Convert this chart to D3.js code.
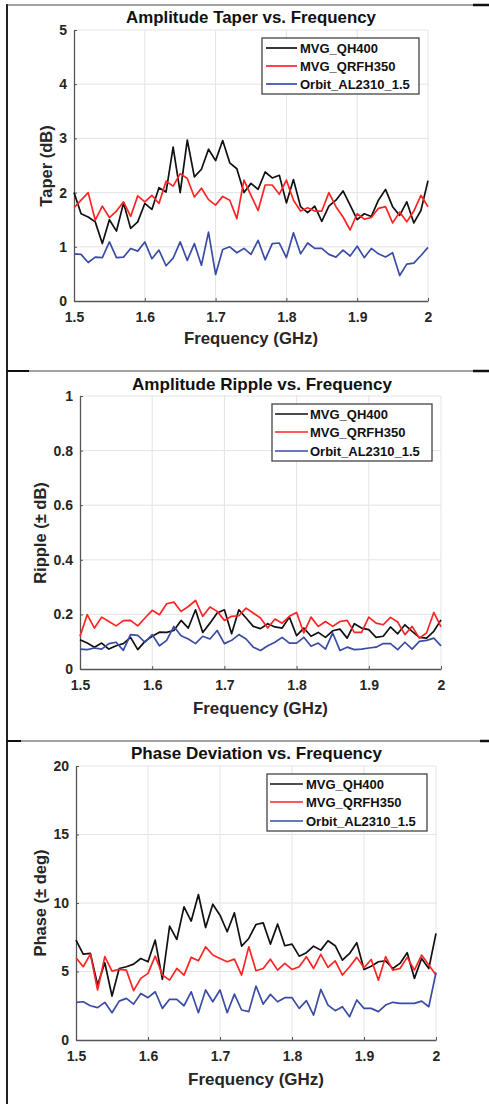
<!DOCTYPE html>
<html><head><meta charset="utf-8">
<script src="https://cdn.jsdelivr.net/npm/d3@7"></script>
<style>body{margin:0;background:#fff}svg{display:block}text{font-family:"Liberation Sans",Arial,sans-serif;font-weight:bold}</style>
</head><body>
<script>
const freqs=[1.50,1.51,1.52,1.53,1.54,1.55,1.56,1.57,1.58,1.59,1.60,1.61,1.62,1.63,1.64,1.65,1.66,1.67,1.68,1.69,1.70,1.71,1.72,1.73,1.74,1.75,1.76,1.77,1.78,1.79,1.80,1.81,1.82,1.83,1.84,1.85,1.86,1.87,1.88,1.89,1.90,1.91,1.92,1.93,1.94,1.95,1.96,1.97,1.98,1.99,2.00];
const seriesNames=["MVG_QH400","MVG_QRFH350","Orbit_AL2310_1.5"];
const xTicks=[1.5,1.6,1.7,1.8,1.9,2];
const xTickLabels=["1.5","1.6","1.7","1.8","1.9","2"];

const taperQH400=[2.0,1.61,1.55,1.46,1.06,1.5,1.29,1.81,1.34,1.46,1.8,1.69,2.09,2.01,2.84,2.0,2.97,2.29,2.43,2.8,2.59,2.96,2.55,2.44,2.0,2.17,2.06,2.38,2.27,2.32,1.81,2.24,1.74,1.63,1.75,1.47,1.75,1.86,2.03,1.77,1.5,1.61,1.56,1.86,2.06,1.74,1.58,1.83,1.44,1.67,2.22];
const taperQRFH350=[1.72,1.86,2.0,1.49,1.75,1.54,1.66,1.83,1.56,1.94,1.83,1.95,1.8,2.21,2.12,2.35,2.26,1.92,2.08,1.87,1.77,1.93,1.86,1.52,2.23,1.95,1.67,2.14,2.14,1.97,2.23,1.86,1.66,1.72,1.66,1.66,2.0,1.74,1.55,1.31,1.61,1.51,1.54,1.71,1.74,1.44,1.64,1.46,1.66,1.95,1.74];
const taperAL2310=[0.87,0.86,0.71,0.81,0.8,1.09,0.8,0.81,0.97,0.92,1.09,0.78,0.94,0.65,0.79,1.09,0.75,1.06,0.66,1.27,0.49,0.95,1.0,0.89,0.97,0.86,1.12,0.76,1.06,1.07,0.8,1.26,0.87,1.07,0.97,0.97,0.86,0.81,0.94,0.83,1.01,0.8,0.97,0.87,0.81,0.89,0.47,0.68,0.7,0.84,0.99];

const rippleQH400=[0.107,0.095,0.08,0.095,0.073,0.085,0.093,0.116,0.071,0.101,0.12,0.135,0.134,0.141,0.178,0.15,0.217,0.134,0.168,0.205,0.217,0.129,0.217,0.187,0.156,0.148,0.166,0.154,0.15,0.19,0.122,0.15,0.12,0.134,0.116,0.14,0.146,0.113,0.166,0.15,0.144,0.116,0.12,0.154,0.129,0.162,0.138,0.116,0.113,0.138,0.18];
const rippleQRFH350=[0.12,0.199,0.15,0.19,0.174,0.158,0.177,0.178,0.158,0.187,0.215,0.199,0.239,0.245,0.211,0.229,0.251,0.193,0.227,0.211,0.178,0.193,0.195,0.223,0.205,0.187,0.15,0.183,0.168,0.193,0.207,0.132,0.19,0.156,0.174,0.156,0.174,0.178,0.134,0.134,0.19,0.168,0.162,0.189,0.172,0.126,0.156,0.113,0.132,0.207,0.154];
const rippleAL2310=[0.073,0.071,0.077,0.073,0.093,0.098,0.068,0.126,0.123,0.098,0.126,0.085,0.105,0.156,0.122,0.11,0.093,0.12,0.11,0.141,0.093,0.105,0.126,0.11,0.08,0.068,0.085,0.098,0.116,0.095,0.095,0.116,0.083,0.095,0.073,0.132,0.068,0.08,0.071,0.073,0.077,0.08,0.093,0.093,0.071,0.098,0.073,0.101,0.105,0.113,0.085];

const phaseQH400=[7.29,6.27,6.32,4.01,5.64,3.21,5.22,5.35,5.54,5.95,5.71,7.29,4.42,8.31,7.34,9.72,8.68,10.62,8.21,9.91,9.11,7.9,9.28,6.85,7.41,8.43,8.55,7.0,8.46,6.88,7.0,6.12,6.37,6.85,6.56,7.24,6.88,5.83,6.32,7.1,5.15,5.39,5.71,5.78,5.22,5.59,6.37,4.5,5.95,5.22,7.78];
const phaseQRFH350=[6.0,5.35,6.27,3.65,6.08,5.03,5.15,5.1,3.6,4.5,4.86,6.12,4.74,4.37,5.22,4.74,6.03,5.78,6.8,6.2,5.95,5.71,5.9,4.74,6.8,5.05,5.22,5.9,5.1,5.59,5.15,5.35,6.08,5.22,6.25,5.3,5.78,4.74,5.35,6.03,5.27,5.88,4.37,6.08,5.1,5.22,6.03,5.1,6.2,5.47,4.74];
const phaseAL2310=[2.75,2.79,2.5,2.36,2.75,1.99,2.84,3.04,2.62,3.4,3.09,3.52,2.31,2.97,2.97,2.5,3.52,1.99,3.65,2.79,3.65,1.99,3.35,2.19,2.07,3.94,2.62,3.33,2.79,3.09,3.09,2.31,2.87,1.82,3.69,2.55,2.14,2.43,1.7,2.92,2.31,2.31,2.07,2.55,2.75,2.67,2.67,2.67,2.84,2.43,4.93];

const taperTicks=[0,1,2,3,4,5], taperTickLabels=["0","1","2","3","4","5"];
const rippleTicks=[0,0.2,0.4,0.6,0.8,1], rippleTickLabels=["0","0.2","0.4","0.6","0.8","1"];
const phaseTicks=[0,5,10,15,20], phaseTickLabels=["0","5","10","15","20"];

const colors=["#111111","#ff2424","#3a4ca6"];

const W=489,H=1104;
const svg=d3.select("body").append("svg").attr("width",W).attr("height",H);

// frame lines
const fr=svg.append("g");
fr.append("line").attr("x1",7).attr("x2",7).attr("y1",4).attr("y2",H).attr("stroke","#222").attr("stroke-width",2);
[[5,7,473],[371,29,473],[741,21,480]].forEach(([y,a,b])=>{
  fr.append("line").attr("x1",7).attr("x2",a).attr("y1",y).attr("y2",y).attr("stroke","#111").attr("stroke-width",2);
  fr.append("line").attr("x1",a).attr("x2",b).attr("y1",y).attr("y2",y).attr("stroke","#444").attr("stroke-width",1);
  fr.append("line").attr("x1",b).attr("x2",W).attr("y1",y).attr("y2",y).attr("stroke","#111").attr("stroke-width",2.5);
});

const panels=[
 {title:"Amplitude Taper vs. Frequency",tx:[126,250,23],ylab:"Taper (dB)",ylx:52,yly:166,ylw:82,xlab:[184,134,344],
  x0:74,x1:428,y0:301,y1:30,dom:[0,5],ticks:taperTicks,tl:taperTickLabels,data:[taperQH400,taperQRFH350,taperAL2310],
  leg:{x:262,y:38,w:157,h:56,lx0:266,lx1:297,tx:300,rows:[48,66,84]}},
 {title:"Amplitude Ripple vs. Frequency",tx:[132,260,390],ylab:"Ripple (\u00b1 dB)",ylx:46,yly:533,ylw:106,xlab:[193,135,714],
  x0:80,x1:441,y0:669,y1:396,dom:[0,1],ticks:rippleTicks,tl:rippleTickLabels,data:[rippleQH400,rippleQRFH350,rippleAL2310],
  leg:{x:272,y:404,w:160,h:57,lx0:275,lx1:308,tx:310,rows:[414,432,451]}},
 {title:"Phase Deviation vs. Frequency",tx:[131,251,759],ylab:"Phase (\u00b1 deg)",ylx:46,yly:903,ylw:112,xlab:[188,136,1085],
  x0:76,x1:436,y0:1040,y1:766,dom:[0,20],ticks:phaseTicks,tl:phaseTickLabels,data:[phaseQH400,phaseQRFH350,phaseAL2310],
  leg:{x:267,y:774,w:160,h:57,lx0:270,lx1:303,tx:306,rows:[784,802,821]}}
];

panels.forEach(p=>{
  const g=svg.append("g");
  const x=d3.scaleLinear().domain([1.5,2]).range([p.x0,p.x1]);
  const y=d3.scaleLinear().domain(p.dom).range([p.y0,p.y1]);
  // grid
  g.append("g").selectAll("line").data(xTicks.slice(1)).join("line")
    .attr("x1",d=>x(d)).attr("x2",d=>x(d)).attr("y1",p.y0).attr("y2",p.y1).attr("stroke","#e4e4e4").attr("stroke-width",1);
  g.append("g").selectAll("line").data(p.ticks.slice(1)).join("line")
    .attr("x1",p.x0).attr("x2",p.x1).attr("y1",d=>y(d)).attr("y2",d=>y(d)).attr("stroke","#e4e4e4").attr("stroke-width",1);
  // axes
  const ax=g.append("g").attr("transform",`translate(0,${p.y0})`)
    .call(d3.axisBottom(x).tickValues(xTicks).tickFormat((d,i)=>xTickLabels[i]).tickSizeInner(-3).tickSizeOuter(0).tickPadding(8));
  const ay=g.append("g").attr("transform",`translate(${p.x0},0)`)
    .call(d3.axisLeft(y).tickValues(p.ticks).tickFormat((d,i)=>p.tl[i]).tickSizeInner(-3).tickSizeOuter(0).tickPadding(7));
  [ax,ay].forEach(a=>{
    a.select(".domain").attr("stroke","#555").attr("stroke-width",1.3);
    a.selectAll(".tick line").attr("stroke","#555");
    a.selectAll("text").attr("font-size",14).attr("font-weight","bold").attr("fill","#262626")
      .attr("font-family","'Liberation Sans',Arial,sans-serif");
  });
  ax.selectAll("text").attr("dy","0.9em");
  // lines
  const line=d3.line().x((d,i)=>x(freqs[i])).y(d=>y(d));
  p.data.forEach((s,k)=>{
    g.append("path").datum(s).attr("d",line).attr("fill","none").attr("stroke",colors[k]).attr("stroke-width",1.7).attr("stroke-linejoin","round");
  });
  // title
  g.append("text").attr("x",p.tx[0]).attr("y",p.tx[2]).attr("font-size",17).attr("fill","#111")
    .attr("textLength",p.tx[1]).attr("lengthAdjust","spacingAndGlyphs").text(p.title);
  // x label
  g.append("text").attr("x",p.xlab[0]).attr("y",p.xlab[2]).attr("font-size",16.5).attr("fill","#262626")
    .attr("textLength",p.xlab[1]).attr("lengthAdjust","spacingAndGlyphs").text("Frequency (GHz)");
  // y label
  g.append("text").attr("transform",`translate(${p.ylx},${p.yly}) rotate(-90)`).attr("text-anchor","middle")
    .attr("font-size",16.5).attr("fill","#262626").text(p.ylab);
  // legend
  const L=p.leg;
  g.append("rect").attr("x",L.x).attr("y",L.y).attr("width",L.w).attr("height",L.h).attr("fill","#fff").attr("stroke","#444").attr("stroke-width",1.3);
  seriesNames.forEach((n,k)=>{
    g.append("line").attr("x1",L.lx0).attr("x2",L.lx1).attr("y1",L.rows[k]).attr("y2",L.rows[k]).attr("stroke",colors[k]).attr("stroke-width",1.7);
    g.append("text").attr("x",L.tx).attr("y",L.rows[k]).attr("dy","0.36em").attr("font-size",13).attr("fill","#111").text(n);
  });
});
</script>
</body></html>
